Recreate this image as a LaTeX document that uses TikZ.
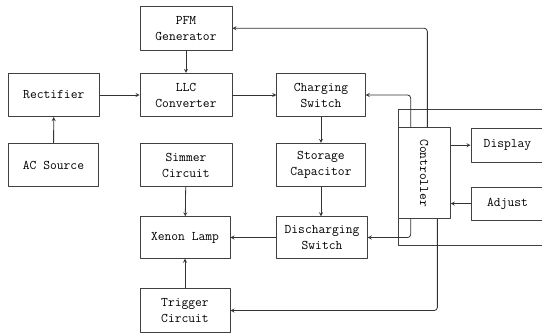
\documentclass[tikz,border=0pt]{standalone}
\usepackage{fontspec}
\usetikzlibrary{calc}

\tikzset{
	blk/.style={draw=black!75,line width=.8pt,fill=white,align=center,inner sep=0pt,
		font=\ttfamily\fontsize{13.2}{16}\selectfont},
	conn/.style={->,line width=.8pt,draw=black!80},
}

\begin{document}
\begin{tikzpicture}[>=stealth,line join=round,x=1pt,y=-1pt]
	\def\w{92} % box width
	\def\h{43.3} % box height
	\clip (0,0) rectangle (542,336);
	% frame round controller
	\draw[line width=.8pt,black!75] (398,109) rectangle (560,245);
	\node[blk,minimum width=\w,minimum height=\h] (pfm) at (186,28.3) {PFM\\Generator};
	\node[blk,minimum width=91,minimum height=\h] (rect) at (53.8,95) {Rectifier};
	\node[blk,minimum width=\w,minimum height=\h] (llc) at (186,95) {LLC\\Converter};
	\node[blk,minimum width=88.6,minimum height=\h] (chg) at (321,95) {Charging\\Switch};
	\node[blk,minimum width=90.4,minimum height=\h] (ac) at (53.5,165) {AC Source};
	\node[blk,minimum width=\w,minimum height=\h] (sim) at (186,165) {Simmer\\Circuit};
	\node[blk,minimum width=88.6,minimum height=\h] (cap) at (321,165) {Storage\\Capacitor};
	\node[blk,minimum width=90,minimum height=41.6] (lamp) at (185,237.5) {Xenon Lamp};
	\node[blk,minimum width=90.6,minimum height=41.6] (dis) at (322,237.5) {Discharging\\Switch};
	\node[blk,minimum width=90,minimum height=44.4] (trg) at (185,310.5) {Trigger\\Circuit};
	\node[blk,minimum width=52.3,minimum height=91] (ctrl) at (424.2,173.2) {\rotatebox{-90}{Controller}};
	\node[blk,minimum width=73,minimum height=33.7] (dsp) at (507.5,145.2) {Display};
	\node[blk,minimum width=73,minimum height=32.7] (adj) at (507.5,203.6) {Adjust};
	% power path
	\draw[conn] (ac) -- (rect);
	\draw[conn] (rect) -- (llc);
	\draw[conn] (pfm) -- (llc);
	\draw[conn] (llc) -- (chg);
	\draw[conn] (chg) -- (cap);
	\draw[conn] (cap.south) -- (cap.south |- dis.north);
	\draw[conn] (dis) -- (lamp);
	\draw[conn] (sim) -- (lamp);
	\draw[conn] (trg) -- (lamp);
	% control lines
	\begin{scope}[rounded corners=3pt]
	\draw[conn] ([xshift=13pt]ctrl.north west) |- (chg.east);
	\draw[conn] ([xshift=29.7pt]ctrl.north west) |- (pfm.east);
	\draw[conn] ([xshift=13pt]ctrl.south west) |- (dis.east);
	\draw[conn] ([xshift=39.7pt]ctrl.south west) |- (trg.east);
	\end{scope}
	\draw[conn] (ctrl.east |- dsp.west) -- (dsp.west);
	\draw[conn] (adj.west) -- (ctrl.east |- adj.west);
\end{tikzpicture}
\end{document}
